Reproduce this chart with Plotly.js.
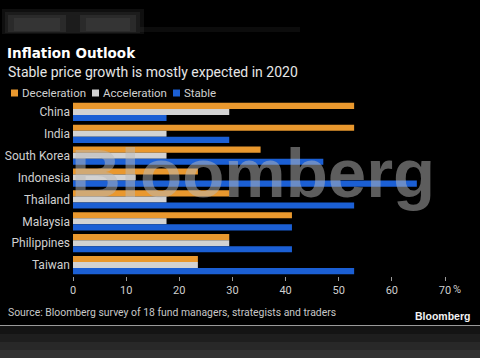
<!DOCTYPE html>
<html>
<head>
<meta charset="utf-8">
<script src="https://cdn.plot.ly/plotly-3.0.1.min.js"></script>
<style>
  html, body { margin: 0; padding: 0; background: #000; }
  #chart { width: 480px; height: 358px; }
</style>
</head>
<body>
<div id="chart"></div>
<script>
// Survey answers: share of respondents expecting each inflation path (%)
const countries = ["China", "India", "South Korea", "Indonesia", "Thailand", "Malaysia", "Philippines", "Taiwan"];
const seriesNames = ["Deceleration", "Acceleration", "Stable"];
const deceleration = [52.9, 52.9, 35.3, 23.5, 29.4, 41.2, 29.4, 23.5];
const acceleration = [29.4, 17.6, 17.6, 11.8, 17.6, 17.6, 29.4, 23.5];
const stable       = [17.6, 29.4, 47.1, 64.7, 52.9, 41.2, 41.2, 52.9];
const xTicks = [0, 10, 20, 30, 40, 50, 60, 70];
const xTickLabels = ["0", "10", "20", "30", "40", "50", "60", "70"];

const colors = ["#e9982e", "#d2d2d2", "#1b5fd4"];
const FONT = "Roboto, 'Liberation Sans', sans-serif";

// plot-area geometry in pixels, used to place legend and page furniture
const W = 480, H = 358;
const M = { l: 73, r: 35, t: 101, b: 82 };
const PW = W - M.l - M.r, PH = H - M.t - M.b;
const px = x => (x - M.l) / PW;
const py = y => (H - M.b - y) / PH;

const values = [deceleration, acceleration, stable];
const traces = values.map((v, i) => ({
  type: "bar",
  orientation: "h",
  name: seriesNames[i],
  y: countries,
  x: v,
  marker: { color: colors[i] },
  showlegend: false,
  hoverinfo: "x+y"
}));

const annotations = [];
const shapes = [];

// faint glow at the top of the frame, built from soft overlapping layers
[[2, 144, 9, 34, 0.10], [5, 140, 12, 33, 0.10], [8, 66, 15, 32, 0.12], [80, 136, 15, 32, 0.12],
 [14, 60, 18, 31, 0.10], [86, 130, 18, 31, 0.10], [140, 300, 27, 32, 0.08]].forEach(g => shapes.push({
  type: "rect", xref: "paper", yref: "paper", layer: "below",
  x0: px(g[0]), x1: px(g[1]), y0: py(g[3]), y1: py(g[2]),
  fillcolor: "rgba(150,150,150," + g[4] + ")", line: { width: 0 }
}));

// subtitle
annotations.push({
  xref: "paper", yref: "paper", x: px(6), y: py(72),
  xanchor: "left", yanchor: "middle", showarrow: false,
  text: "Stable price growth is mostly expected in 2020",
  font: { family: FONT, size: 14, color: "#e6e6e6" }
});

// legend: swatch + label for each series
const legendX = [11, 92, 173];
seriesNames.forEach((name, i) => {
  const x0 = legendX[i];
  shapes.push({
    type: "rect", xref: "paper", yref: "paper",
    x0: px(x0), x1: px(x0 + 7), y0: py(96.5), y1: py(89.5),
    fillcolor: colors[i], line: { width: 0 }
  });
  annotations.push({
    xref: "paper", yref: "paper", x: px(x0 + 9), y: py(93),
    xanchor: "left", yanchor: "middle", showarrow: false,
    text: name, font: { family: FONT, size: 11.5, color: "#d0d0d0" }
  });
});

// percent sign after the last tick label
annotations.push({
  xref: "x", yref: "paper", x: 70, y: py(289),
  xanchor: "left", yanchor: "middle", xshift: 6, showarrow: false,
  text: "%", font: { family: FONT, size: 11, color: "#cfcfcf" }
});

// source line and logo
annotations.push({
  xref: "paper", yref: "paper", x: px(6), y: py(312),
  xanchor: "left", yanchor: "middle", showarrow: false,
  text: "Source: Bloomberg survey of 18 fund managers, strategists and traders",
  font: { family: FONT, size: 10.4, color: "#c8c8c8" }
});
annotations.push({
  xref: "paper", yref: "paper", x: px(472), y: py(316),
  xanchor: "right", yanchor: "middle", showarrow: false,
  text: "<b>Bloomberg</b>",
  font: { family: "'Liberation Sans', Arial, sans-serif", size: 10.5, color: "#f2f2f2" }
});

// translucent watermark over the bars
annotations.push({
  xref: "paper", yref: "paper", x: px(253), y: py(173),
  xanchor: "center", yanchor: "middle", showarrow: false,
  text: "<b>Bloomberg</b>",
  font: { family: "'Liberation Sans', Arial, sans-serif", size: 69, color: "rgba(185,185,185,0.5)" }
});

// bottom frame: rule and darker band
const bands = [[326, 334, "#141414"], [334, 342, "#1e1e1e"], [342, 350, "#282828"], [350, 359, "#333333"]];
bands.forEach(b => shapes.push({
  type: "rect", xref: "paper", yref: "paper", layer: "below",
  x0: px(-1), x1: px(481), y0: py(b[1]), y1: py(b[0]),
  fillcolor: b[2], line: { width: 0 }
}));
shapes.push({
  type: "line", xref: "paper", yref: "paper",
  x0: px(0), x1: px(480), y0: py(325.5), y1: py(325.5),
  line: { color: "#9a9a9a", width: 1 }
});

const layout = {
  width: W, height: H,
  paper_bgcolor: "#000", plot_bgcolor: "rgba(0,0,0,0)",
  margin: M,
  barmode: "group",
  bargap: 0.17,
  bargroupgap: 0,
  title: {
    text: "<b>Inflation Outlook</b>",
    xref: "container", yref: "container",
    x: 7 / W, xanchor: "left",
    y: 1 - 53 / H, yanchor: "middle",
    font: { family: "'DejaVu Sans', sans-serif", size: 13.5, color: "#ffffff" }
  },
  xaxis: {
    range: [0, 70],
    tickvals: xTicks, ticktext: xTickLabels,
    ticks: "outside", ticklen: 4, tickcolor: "#9a9a9a", tickwidth: 1,
    showgrid: false, zeroline: false, showline: false,
    tickfont: { family: FONT, size: 11, color: "#cfcfcf" }
  },
  yaxis: {
    autorange: "reversed",
    showgrid: false, zeroline: false, showline: false,
    ticks: "", ticklabelstandoff: 2,
    tickfont: { family: FONT, size: 12, color: "#d0d0d0" }
  },
  annotations: annotations,
  shapes: shapes
};

Plotly.newPlot("chart", traces, layout, { displayModeBar: false, staticPlot: true });
</script>
</body>
</html>
